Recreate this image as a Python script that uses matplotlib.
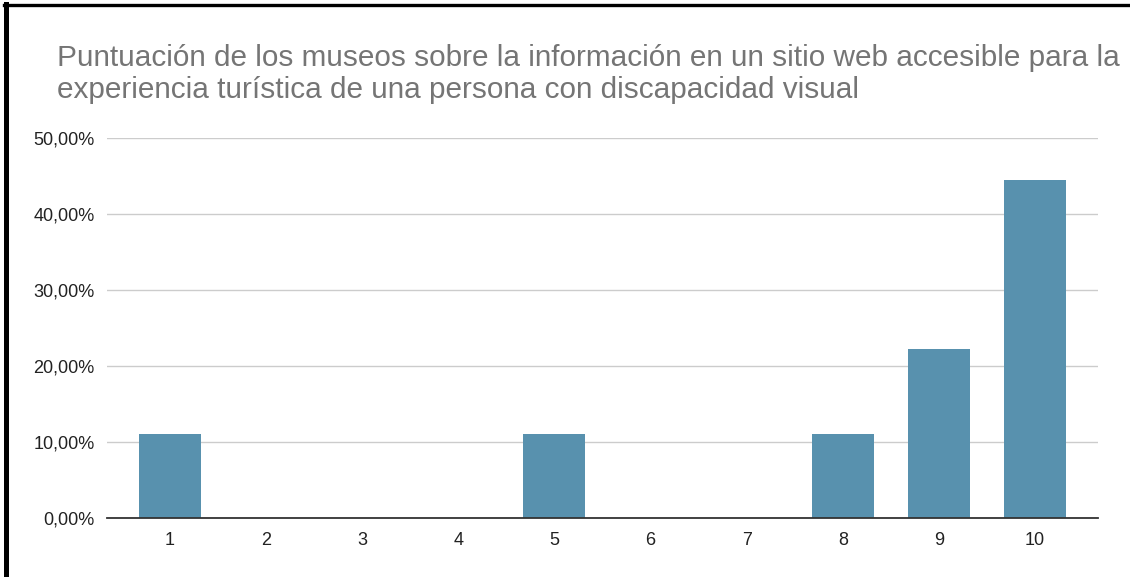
import matplotlib
matplotlib.use('Agg')
import matplotlib.pyplot as plt
from matplotlib.lines import Line2D
from matplotlib.ticker import FuncFormatter, MultipleLocator

puntuaciones = [1, 2, 3, 4, 5, 6, 7, 8, 9, 10]
porcentajes = [11.11, 0, 0, 0, 11.11, 0, 0, 11.11, 22.22, 44.44]
etiquetas = [str(p) for p in puntuaciones]

TITULO = ("Puntuación de los museos sobre la información en un sitio web accesible para la\n"
          "experiencia turística de una persona con discapacidad visual")

plt.rcParams['font.family'] = ['Liberation Sans', 'DejaVu Sans']

W, H = 1130, 577
fig = plt.figure(figsize=(W / 100, H / 100), dpi=100)
ax = fig.add_axes([107 / W, 1 - 518 / H, (1098 - 107) / W, (518 - 138) / H])

ax.bar(puntuaciones, porcentajes, width=0.645, color='#5891ae', zorder=3)

ax.set_xlim(0.345, 10.655)
ax.set_ylim(0, 50)
ax.yaxis.set_major_locator(MultipleLocator(10))
ax.yaxis.set_major_formatter(FuncFormatter(lambda v, _: f"{v:.2f}".replace('.', ',') + '%'))
ax.set_xticks(puntuaciones)
ax.set_xticklabels(etiquetas)

ax.grid(axis='y', color='#cccccc', linewidth=1, zorder=0)
for s in ['top', 'right', 'left']:
    ax.spines[s].set_visible(False)
ax.spines['bottom'].set_color('#333333')
ax.spines['bottom'].set_linewidth(1.3)
ax.spines['bottom'].set_zorder(4)
ax.tick_params(axis='both', length=0, labelsize=13, colors='#222222')
ax.tick_params(axis='y', pad=9)
ax.tick_params(axis='x', pad=10)

fig.text(57 / W, 1 - 44 / H, TITULO, fontsize=21.4, color='#757575',
         ha='left', va='top', linespacing=1.2)

# marco negro (izquierda y arriba)
fig.add_artist(Line2D([6 / W, 6 / W], [0, 1 - 4 / H], color='black', linewidth=3.6,
                      transform=fig.transFigure))
fig.add_artist(Line2D([4 / W, 1128 / W], [1 - 5 / H, 1 - 5 / H], color='black', linewidth=2.4,
                      transform=fig.transFigure))

fig.savefig('out.png', dpi=100)
plt.close()
